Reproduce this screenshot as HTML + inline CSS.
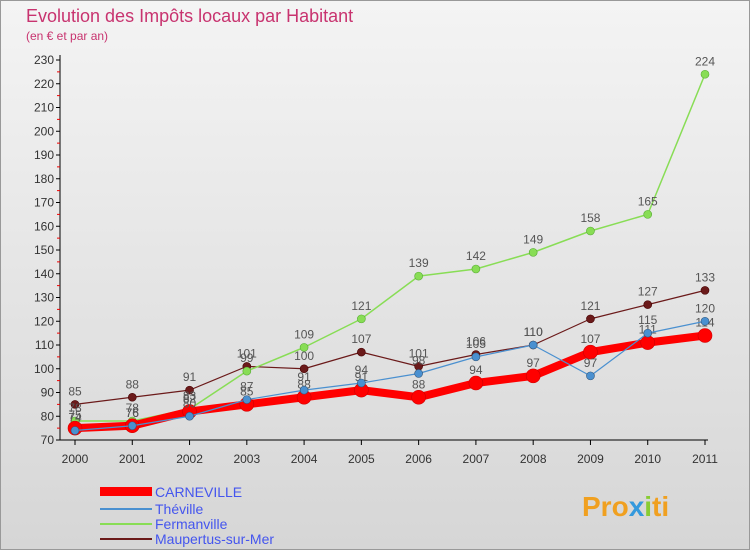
<!DOCTYPE html>
<html><head><meta charset="utf-8"><style>
body{margin:0;width:750px;height:550px;overflow:hidden;font-family:"Liberation Sans",sans-serif}
</style></head><body>
<svg width="750" height="550" xmlns="http://www.w3.org/2000/svg" id="svg">
<defs><linearGradient id="bg" x1="0" y1="0" x2="0" y2="1"><stop offset="0" stop-color="#f4f4f4"/><stop offset="1" stop-color="#d6d6d6"/></linearGradient></defs>
<rect x="0.5" y="0.5" width="749" height="549" fill="url(#bg)" stroke="#999"/>
<text x="26" y="22" font-size="18" fill="#c8336f">Evolution des Impôts locaux par Habitant</text>
<text x="26" y="40" font-size="12" fill="#c8336f">(en € et par an)</text>
<g id="axes"></g><g id="series"></g>
<g font-size="14" fill="#4455ee">
<rect x="100" y="487" width="52" height="9" fill="#ff0000"/><text x="155" y="497">CARNEVILLE</text>
<line x1="100" y1="509" x2="152" y2="509" stroke="#4a90d0" stroke-width="2"/><text x="155" y="514">Théville</text>
<line x1="100" y1="524" x2="152" y2="524" stroke="#88dd55" stroke-width="2"/><text x="155" y="529">Fermanville</text>
<line x1="100" y1="539" x2="152" y2="539" stroke="#6b1a1a" stroke-width="2"/><text x="155" y="544">Maupertus-sur-Mer</text>
</g>
<text x="582" y="516" font-size="28" font-weight="bold" fill="#f0a020">Pro<tspan fill="#3399dd">x</tspan><tspan fill="#88cc33">i</tspan><tspan fill="#f0a020">ti</tspan></text>
</svg>
<script>
const years=[2000,2001,2002,2003,2004,2005,2006,2007,2008,2009,2010,2011];
const yTicks=[70,80,90,100,110,120,130,140,150,160,170,180,190,200,210,220,230];
const carneville=[75,76,82,85,88,91,88,94,97,107,111,114];
const theville=[74,76,80,87,91,94,98,105,110,97,115,120];
const fermanville=[78,78,83,99,109,121,139,142,149,158,165,224];
const maupertus=[85,88,91,101,100,107,101,106,110,121,127,133];
const NS="http://www.w3.org/2000/svg";
const X=i=>75+i*(630/11), Y=v=>440-(v-70)*2.375;
function mk(t,a,p){const e=document.createElementNS(NS,t);for(const k in a)e.setAttribute(k,a[k]);p.appendChild(e);return e;}
const ax=document.getElementById('axes'), sg=document.getElementById('series');
let l=mk('line',{x1:60,y1:55,x2:60,y2:440,stroke:'#000'},ax);

l=mk('line',{x1:60,y1:440,x2:708,y2:440,stroke:'#000'},ax);

yTicks.forEach(v=>{mk('line',{x1:56,y1:Y(v),x2:60,y2:Y(v),stroke:'#000'},ax);
 if(v<230)mk('line',{x1:57,y1:Y(v+5),x2:60,y2:Y(v+5),stroke:'#e00'},ax);
 const t=mk('text',{x:54,y:Y(v)+4,'text-anchor':'end','font-size':12,fill:'#333'},ax);t.textContent=v;
 });
years.forEach((y,i)=>{mk('line',{x1:X(i),y1:440,x2:X(i),y2:445,stroke:'#000'},ax);
 const t=mk('text',{x:X(i),y:463,'text-anchor':'middle','font-size':12,fill:'#333'},ax);t.textContent=y;
 });
function series(d,col,w,r,name,stroke){
 const g=mk('g',{},sg);
 mk('polyline',{points:d.map((v,i)=>X(i)+','+Y(v)).join(' '),fill:'none',stroke:col,'stroke-width':w,'stroke-linejoin':'round'},g);
 d.forEach((v,i)=>{const c=mk('circle',{cx:X(i),cy:Y(v),r:r,fill:col,stroke:stroke,'stroke-width':0.6},g);
  
  const t=mk('text',{x:X(i),y:Y(v)-9,'text-anchor':'middle','font-size':12,fill:'#555'},g);t.textContent=v;
  });
}
series(maupertus,'#6b1a1a',1.2,4,'maupertus-series','#400');
series(fermanville,'#88dd55',1.5,4,'fermanville-series','#5a3');
series(carneville,'#ff0000',8,7,'carneville-series','#c00');
series(theville,'#4a90d0',1.2,4,'theville-series','#357');
</script>
</body></html>
